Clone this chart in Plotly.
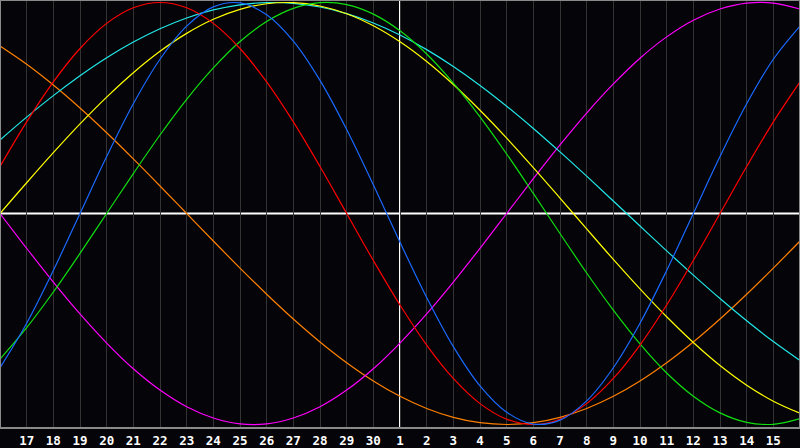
import plotly.graph_objects as go

# day index 0..30 (left edge = 16th of previous month, right edge = 16th of this month)
day_index = list(range(31))
tick_pos = list(range(1, 30))
tick_labels = ["17", "18", "19", "20", "21", "22", "23", "24", "25", "26", "27", "28", "29", "30",
               "1", "2", "3", "4", "5", "6", "7", "8", "9", "10", "11", "12", "13", "14", "15"]

physical = [-0.731, -0.520, -0.270, 0.0, 0.270, 0.520, 0.731, 0.888, 0.979, 0.998, 0.942,
            0.817, 0.631, 0.398, 0.136, -0.136, -0.398, -0.631, -0.817, -0.942, -0.998,
            -0.979, -0.888, -0.731, -0.520, -0.270, 0.0, 0.270, 0.520, 0.731, 0.888]
emotional = [0.2225, 0.4339, 0.6235, 0.7818, 0.9010, 0.9749, 1.0, 0.9749, 0.9010, 0.7818,
             0.6235, 0.4339, 0.2225, 0.0, -0.2225, -0.4339, -0.6235, -0.7818, -0.9010,
             -0.9749, -1.0, -0.9749, -0.9010, -0.7818, -0.6235, -0.4339, -0.2225, 0.0,
             0.2225, 0.4339, 0.6235]
intellectual = [-0.690, -0.541, -0.372, -0.189, 0.0, 0.189, 0.372, 0.541, 0.690, 0.815, 0.910,
                0.972, 0.999, 0.990, 0.945, 0.866, 0.756, 0.618, 0.458, 0.282, 0.095, -0.095,
                -0.282, -0.458, -0.618, -0.756, -0.866, -0.945, -0.990, -0.999, -0.972]
intuitive = [0.0, -0.165, -0.325, -0.476, -0.614, -0.736, -0.837, -0.916, -0.969, -0.997,
             -0.997, -0.969, -0.916, -0.837, -0.736, -0.614, -0.476, -0.325, -0.165, 0.0,
             0.165, 0.325, 0.476, 0.614, 0.736, 0.837, 0.916, 0.969, 0.997, 0.997, 0.969]
aesthetic = [0.0, 0.1456, 0.2881, 0.4245, 0.5517, 0.6673, 0.7687, 0.8537, 0.9204, 0.9675,
             0.9940, 0.9993, 0.9834, 0.9465, 0.8894, 0.8135, 0.7203, 0.6112, 0.4894, 0.3572,
             0.2175, 0.0730, -0.0730, -0.2175, -0.3572, -0.4894, -0.6112, -0.7203, -0.8135,
             -0.8894, -0.9465]
awareness = [0.7934, 0.7071, 0.6088, 0.5, 0.3827, 0.2588, 0.1305, 0.0, -0.1305, -0.2588,
             -0.3827, -0.5, -0.6088, -0.7071, -0.7934, -0.8660, -0.9239, -0.9659, -0.9914,
             -1.0, -0.9914, -0.9659, -0.9239, -0.8660, -0.7934, -0.7071, -0.6088, -0.5,
             -0.3827, -0.2588, -0.1305]
spiritual = [0.3482, 0.4566, 0.5586, 0.6528, 0.7380, 0.8126, 0.8757, 0.9267, 0.9647, 0.9890,
             0.9996, 0.9961, 0.9786, 0.9473, 0.9028, 0.8457, 0.7766, 0.6967, 0.6069, 0.5085,
             0.4031, 0.2920, 0.1769, 0.0592, -0.0592, -0.1769, -0.2920, -0.4031, -0.5085,
             -0.6069, -0.6967]

series = [
    ("Awareness", awareness, "#ff8000"),
    ("Intuitive", intuitive, "#ff00ff"),
    ("Spiritual", spiritual, "#22e8e8"),
    ("Aesthetic", aesthetic, "#ffff00"),
    ("Intellectual", intellectual, "#10e010"),
    ("Emotional", emotional, "#ff0000"),
    ("Physical", physical, "#1a6aff"),
]

fig = go.Figure()
for name, vals, col in series:
    fig.add_trace(go.Scatter(x=day_index, y=vals, mode="lines", name=name,
                             line=dict(color=col, width=1.2, shape="spline", smoothing=1.0),
                             hoverinfo="skip"))

fig.add_shape(type="line", xref="x", yref="paper", x0=15, x1=15, y0=0, y1=1,
              line=dict(color="#ffffff", width=2), layer="below")
fig.add_shape(type="line", xref="paper", yref="y", x0=0, x1=1, y0=0, y1=0,
              line=dict(color="#ffffff", width=2), layer="below")
fig.add_shape(type="rect", xref="paper", yref="paper", x0=0, x1=1, y0=0, y1=1,
              line=dict(color="#8a8a8a", width=2), layer="above")

fig.update_layout(
    width=800, height=448,
    margin=dict(l=0, r=0, t=0, b=20),
    paper_bgcolor="#050408",
    plot_bgcolor="#050408",
    showlegend=False,
    xaxis=dict(range=[0, 30], tickvals=tick_pos, ticktext=tick_labels,
               showgrid=True, gridcolor="#333333", gridwidth=1, zeroline=False,
               showline=False, ticks="", ticklen=0, ticklabelstandoff=3,
               tickfont=dict(family="DejaVu Sans Mono", size=12.5, color="#ffffff", weight="bold"),
               fixedrange=True),
    yaxis=dict(range=[-1.0166, 1.0118], showgrid=False, zeroline=False, showticklabels=False,
               showline=False, ticks="", fixedrange=True),
)

fig.write_html("out.html", config={"displayModeBar": False},
               post_script="document.body.style.margin='0';document.body.style.padding='0';"
                           "document.body.style.overflow='hidden';"
                           "document.body.style.background='#050408';")
